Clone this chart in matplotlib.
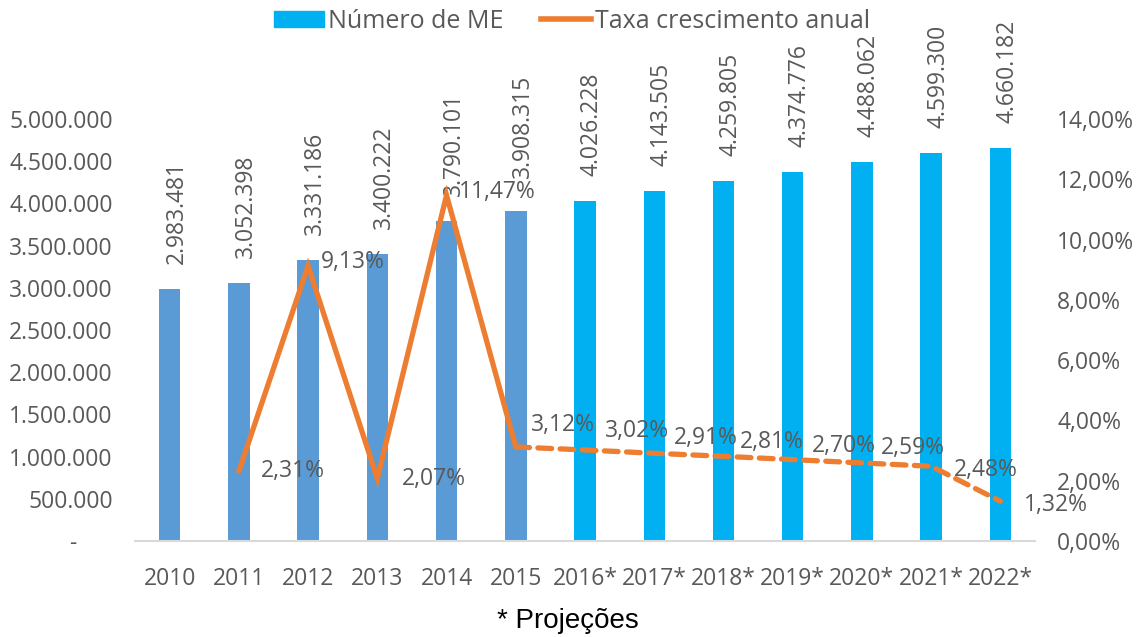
import numpy as np
import matplotlib.pyplot as plt
from matplotlib.patches import Patch
from matplotlib.lines import Line2D
from matplotlib.ticker import FuncFormatter

plt.rcParams['font.family'] = ['Open Sans', 'DejaVu Sans']

# data
anos = ['2010', '2011', '2012', '2013', '2014', '2015', '2016*', '2017*',
        '2018*', '2019*', '2020*', '2021*', '2022*']
numero_me = [2983481, 3052398, 3331186, 3400222, 3790101, 3908315, 4026228,
             4143505, 4259805, 4374776, 4488062, 4599300, 4660182]
taxa = [None, 2.31, 9.13, 2.07, 11.47, 3.12, 3.02, 2.91, 2.81, 2.70, 2.59, 2.48, 1.32]

# label offsets for the growth labels (points)
taxa_off = [None, (16, 0), (9, 3), (18, 0), (9, 2), (11, 16), (14, 14), (14, 11),
            (12, 10), (14, 10), (14, 11), (16, -3), (17, -3)]

GRAY = '#595959'
BLUE_HIST = '#5B9BD5'
BLUE_PROJ = '#00B0F0'
ORANGE = '#ED7D31'
FS = 16.5

fig = plt.figure(figsize=(11.38, 6.37), dpi=100)
ax = fig.add_axes([135 / 1138, 1 - 541 / 637, 900 / 1138, 422 / 637])

x = np.arange(len(anos))
cores = [BLUE_HIST if '*' not in a else BLUE_PROJ for a in anos]
ax.bar(x, numero_me, width=0.31, color=cores, zorder=2)

for i, v in enumerate(numero_me):
    dy = 24 if anos[i] == '2015' else 18
    ax.annotate(f"{v:,}".replace(',', '.'), xy=(i, v), xytext=(5, dy),
                textcoords='offset points', rotation=90, ha='center', va='bottom',
                fontsize=FS, color=GRAY, annotation_clip=False)

ax.set_xlim(-0.5, len(anos) - 0.5)
ax.set_ylim(0, 5000000)
ax.set_yticks(np.arange(0, 5000001, 500000))


def fmt_left(v, pos):
    if v == 0:
        return '-      '
    return f"{int(v):,}".replace(',', '.')


ax.yaxis.set_major_formatter(FuncFormatter(fmt_left))
ax.set_xticks(x, anos)
ax.tick_params(axis='both', length=0, labelsize=FS, labelcolor=GRAY)
ax.tick_params(axis='y', pad=16)
ax.tick_params(axis='x', pad=19)
for s in ['top', 'right', 'left']:
    ax.spines[s].set_visible(False)
ax.spines['bottom'].set_color('#D9D9D9')
ax.spines['bottom'].set_linewidth(1.5)

ax2 = ax.twinx()
ax2.set_ylim(0, 0.14)
ax2.set_yticks(np.arange(0, 0.1401, 0.02))
ax2.yaxis.set_major_formatter(FuncFormatter(lambda v, p: f"{v * 100:.2f}%".replace('.', ',')))
ax2.tick_params(axis='y', length=0, labelsize=FS, labelcolor=GRAY, pad=16)
for s in ax2.spines.values():
    s.set_visible(False)

taxa_frac = [t / 100 if t is not None else np.nan for t in taxa]
ax2.plot(x[1:6], taxa_frac[1:6], color=ORANGE, lw=3.8, solid_capstyle='round',
         solid_joinstyle='miter', zorder=3)
ax2.plot(x[5:], taxa_frac[5:], color=ORANGE, lw=3.8, linestyle=(0, (2.6, 1.6)),
         dash_capstyle='round', zorder=3)

for i, t in enumerate(taxa):
    if t is None:
        continue
    ax2.annotate(f"{t:.2f}%".replace('.', ','), xy=(i, t / 100), xytext=taxa_off[i],
                 textcoords='offset points', ha='left', va='center',
                 fontsize=FS, color=GRAY, annotation_clip=False)

handles = [Patch(color=BLUE_PROJ), Line2D([0], [0], color=ORANGE, lw=4)]
fig.legend(handles, ['Número de ME', 'Taxa crescimento anual'], loc='center',
           bbox_to_anchor=(572 / 1138, 1 - 21 / 637), ncol=2, frameon=False,
           fontsize=18, labelcolor=GRAY, handlelength=2.0, handleheight=0.6,
           handletextpad=0.15, columnspacing=1.5)

fig.text(568 / 1138, 1 - 621 / 637, '* Projeções', ha='center', va='center',
         fontsize=20, family='Liberation Sans', color='black')

fig.savefig('out.png', dpi=100)
